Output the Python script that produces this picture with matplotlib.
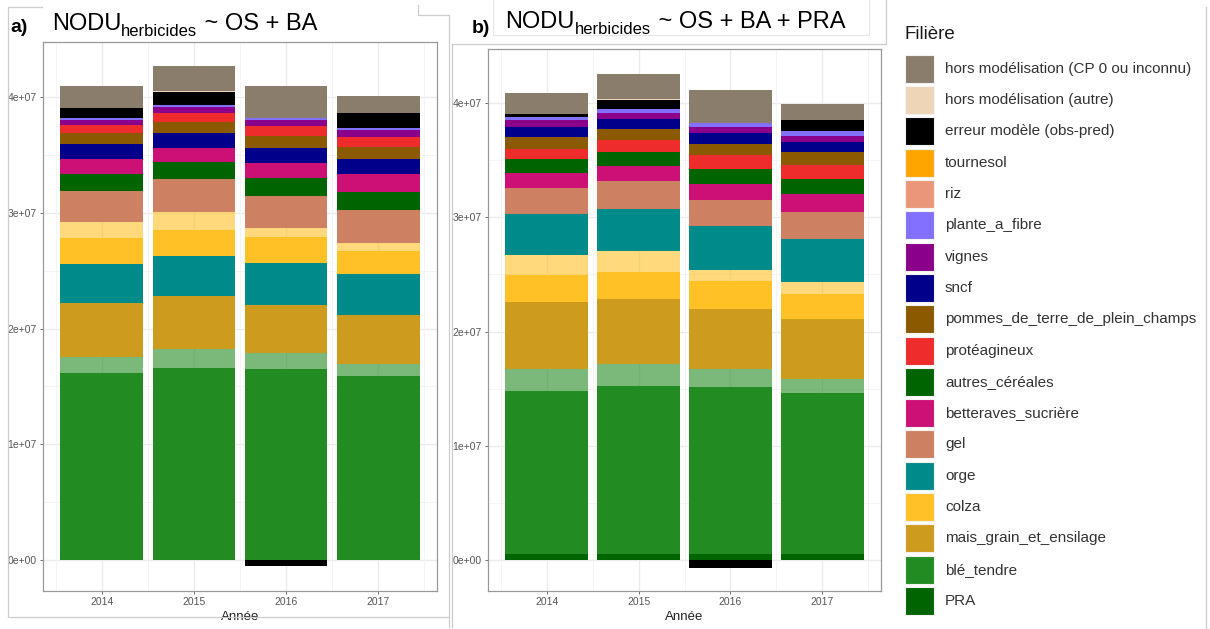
import numpy as np
import matplotlib.pyplot as plt
from matplotlib.patches import Rectangle

plt.rcParams['font.family'] = ['Liberation Sans', 'DejaVu Sans']

years = ['2014', '2015', '2016', '2017']

# legend order (top -> bottom) and fill colours
filieres = ['hors modélisation (CP 0 ou inconnu)', 'hors modélisation (autre)',
            'erreur modèle (obs-pred)', 'tournesol', 'riz', 'plante_a_fibre',
            'vignes', 'sncf', 'pommes_de_terre_de_plein_champs', 'protéagineux',
            'autres_céréales', 'betteraves_sucrière', 'gel', 'orge', 'colza',
            'mais_grain_et_ensilage', 'blé_tendre', 'PRA']
colors = {
    'hors modélisation (CP 0 ou inconnu)': '#8B7D6B',
    'hors modélisation (autre)': '#EED5B7',
    'erreur modèle (obs-pred)': '#000000',
    'tournesol': '#FFA500',
    'riz': '#E9967A',
    'plante_a_fibre': '#8470FF',
    'vignes': '#8B008B',
    'sncf': '#00008B',
    'pommes_de_terre_de_plein_champs': '#8B5A00',
    'protéagineux': '#EE2C2C',
    'autres_céréales': '#006400',
    'betteraves_sucrière': '#CD1076',
    'gel': '#CD8162',
    'orge': '#008B8B',
    'colza': '#FFC125',
    'mais_grain_et_ensilage': '#CD9B1D',
    'blé_tendre': '#228B22',
    'PRA': '#006400',
}
# lighter (transparent) parts of blé and colza, not in the legend
light_of = {'blé_tendre_clair': 'blé_tendre', 'colza_clair': 'colza'}

# values in millions, stacked bottom -> top
order_a = ['blé_tendre', 'blé_tendre_clair', 'mais_grain_et_ensilage', 'orge',
           'colza', 'colza_clair', 'gel', 'autres_céréales', 'betteraves_sucrière',
           'sncf', 'pommes_de_terre_de_plein_champs', 'protéagineux', 'vignes',
           'plante_a_fibre', 'riz', 'tournesol', 'erreur modèle (obs-pred)',
           'hors modélisation (autre)', 'hors modélisation (CP 0 ou inconnu)']
values_a = {
    'blé_tendre': [16.15, 16.58, 16.5, 15.86],
    'blé_tendre_clair': [1.38, 1.64, 1.38, 1.1],
    'mais_grain_et_ensilage': [4.73, 4.64, 4.18, 4.18],
    'orge': [3.34, 3.46, 3.6, 3.58],
    'colza': [2.2, 2.22, 2.25, 2.04],
    'colza_clair': [1.45, 1.53, 0.78, 0.64],
    'gel': [2.65, 2.85, 2.8, 2.88],
    'autres_céréales': [1.5, 1.47, 1.58, 1.58],
    'betteraves_sucrière': [1.25, 1.27, 1.3, 1.53],
    'sncf': [1.3, 1.24, 1.3, 1.3],
    'pommes_de_terre_de_plein_champs': [0.98, 0.98, 1.0, 1.06],
    'protéagineux': [0.66, 0.75, 0.87, 0.87],
    'vignes': [0.5, 0.57, 0.52, 0.58],
    'plante_a_fibre': [0.17, 0.15, 0.2, 0.2],
    'riz': [0, 0, 0, 0],
    'tournesol': [0, 0, 0, 0],
    'erreur modèle (obs-pred)': [0.8, 1.12, -0.58, 1.25],
    'hors modélisation (autre)': [0, 0.12, 0, 0],
    'hors modélisation (CP 0 ou inconnu)': [1.95, 2.14, 2.74, 1.44],
}

order_b = ['PRA', 'blé_tendre', 'blé_tendre_clair', 'mais_grain_et_ensilage',
           'colza', 'colza_clair', 'orge', 'gel', 'betteraves_sucrière',
           'autres_céréales', 'protéagineux', 'pommes_de_terre_de_plein_champs',
           'sncf', 'vignes', 'plante_a_fibre', 'riz', 'tournesol',
           'erreur modèle (obs-pred)', 'hors modélisation (autre)',
           'hors modélisation (CP 0 ou inconnu)']
values_b = {
    'PRA': [0.53, 0.53, 0.53, 0.53],
    'blé_tendre': [14.27, 14.71, 14.6, 14.07],
    'blé_tendre_clair': [1.9, 1.9, 1.58, 1.26],
    'mais_grain_et_ensilage': [5.87, 5.72, 5.25, 5.23],
    'colza': [2.39, 2.34, 2.45, 2.22],
    'colza_clair': [1.78, 1.87, 0.99, 0.99],
    'orge': [3.56, 3.68, 3.83, 3.8],
    'gel': [2.25, 2.39, 2.24, 2.33],
    'betteraves_sucrière': [1.34, 1.31, 1.46, 1.64],
    'autres_céréales': [1.23, 1.26, 1.3, 1.31],
    'protéagineux': [0.88, 1.02, 1.2, 1.23],
    'pommes_de_terre_de_plein_champs': [1.02, 1.0, 1.02, 1.08],
    'sncf': [0.88, 0.88, 0.88, 0.91],
    'vignes': [0.64, 0.53, 0.59, 0.55],
    'plante_a_fibre': [0.23, 0.3, 0.35, 0.44],
    'riz': [0, 0, 0, 0],
    'tournesol': [0, 0, 0, 0],
    'erreur modèle (obs-pred)': [0.26, 0.79, -0.67, 0.9],
    'hors modélisation (autre)': [0, 0.12, 0, 0],
    'hors modélisation (CP 0 ou inconnu)': [1.84, 2.2, 2.86, 1.46],
}

y_ticks = [0, 1e7, 2e7, 3e7, 4e7]
y_ticklabels = ['0e+00', '1e+07', '2e+07', '3e+07', '4e+07']

W, H = 1210, 629
fig = plt.figure(figsize=(W / 100, H / 100), dpi=100)


def px_axes(left, top, right, bottom):
    return fig.add_axes([left / W, 1 - bottom / H, (right - left) / W, (bottom - top) / H])


def draw_panel(ax, order, values, ylim):
    x = np.arange(1, len(years) + 1)
    pos = np.zeros(len(years))
    neg = np.zeros(len(years))
    for name in order:
        v = np.array(values[name]) * 1e6
        bottom = np.where(v >= 0, pos, neg)
        if name in light_of:
            ax.bar(x, v, 0.9, bottom=bottom, color=colors[light_of[name]],
                   alpha=0.6, linewidth=0, zorder=3)
        else:
            ax.bar(x, v, 0.9, bottom=bottom, color=colors[name], linewidth=0, zorder=2)
        pos = pos + np.where(v >= 0, v, 0)
        neg = neg + np.where(v < 0, v, 0)

    ax.set_xlim(0.36, 4.64)
    ax.set_ylim(*ylim)
    ax.set_xticks(x)
    ax.set_xticklabels(years)
    ax.set_yticks(y_ticks)
    ax.set_yticklabels(y_ticklabels)
    for yv in [0.5e7, 1.5e7, 2.5e7, 3.5e7]:
        ax.axhline(yv, color='#F2F2F2', lw=0.6, zorder=1)
    for yv in y_ticks:
        ax.axhline(yv, color='#EBEBEB', lw=1.0, zorder=1)
    for xv in [0.5, 1.5, 2.5, 3.5, 4.5]:
        ax.axvline(xv, color='#F2F2F2', lw=0.6, zorder=1)
    for xv in x:
        ax.axvline(xv, color='#EBEBEB', lw=1.0, zorder=1)
    ax.tick_params(axis='both', labelsize=7.5, labelcolor='#555555', color='#555555',
                   length=2.5, width=0.6, pad=2)
    for s in ax.spines.values():
        s.set_color('#999999')
        s.set_linewidth(0.9)
    ax.set_xlabel('Année', fontsize=9.5, color='#222222', labelpad=3)


ax_a = px_axes(43, 42, 437, 591)
draw_panel(ax_a, order_a, values_a, (-0.27e7, 4.48e7))
ax_b = px_axes(488, 49, 881, 591)
draw_panel(ax_b, order_b, values_b, (-0.269e7, 4.472e7))

# overlay in pixel coordinates: frames, titles, legend
ov = fig.add_axes([0, 0, 1, 1], zorder=5)
ov.set_xlim(0, W)
ov.set_ylim(H, 0)
ov.axis('off')
ov.patch.set_alpha(0)

grey = '#CCCCCC'
# frame of panel a
ov.plot([42, 8, 8, 449], [7, 7, 617, 617], color=grey, lw=0.9)
ov.plot([418, 418, 449, 449], [5, 15, 15, 627], color=grey, lw=0.9)
# frame of panel b
ov.plot([452, 452], [627, 44], color=grey, lw=0.9)
ov.plot([452, 886, 886], [44, 44, 0], color=grey, lw=0.9)
ov.plot([493, 493, 869, 869], [0, 35, 35, 0], color='#E6E6E6', lw=0.8)
# legend frame
ov.plot([1206, 1206], [7, 628], color=grey, lw=0.9)

renderer = fig.canvas.get_renderer()


def title(x0, y0, rest):
    t = ov.text(x0, y0, 'NODU', fontsize=17, va='baseline', ha='left')
    x1 = ov.transData.inverted().transform(t.get_window_extent(renderer))[1, 0]
    s = ov.text(x1, y0 + 6, 'herbicides', fontsize=12, va='baseline', ha='left')
    x2 = ov.transData.inverted().transform(s.get_window_extent(renderer))[1, 0]
    ov.text(x2 + 1, y0, rest, fontsize=17, va='baseline', ha='left')


ov.text(10, 32, 'a)', fontsize=14, fontweight='bold', va='baseline', ha='left')
title(52, 30, ' ~ OS + BA')
ov.text(472, 33, 'b)', fontsize=14, fontweight='bold', va='baseline', ha='left')
title(505, 28.5, ' ~ OS + BA + PRA')

ov.text(905, 34.5, 'Filière', fontsize=13.5, va='center', ha='left', color='#1A1A1A')
for i, name in enumerate(filieres):
    cy = 68.8 + i * 31.3
    ov.add_patch(Rectangle((905, cy - 14), 29, 28, facecolor=colors[name],
                           edgecolor='#F2F2F2', lw=0.8))
    ov.text(945, cy, name, fontsize=11, va='center', ha='left', color='#333333')

fig.savefig('out.png', dpi=100)
